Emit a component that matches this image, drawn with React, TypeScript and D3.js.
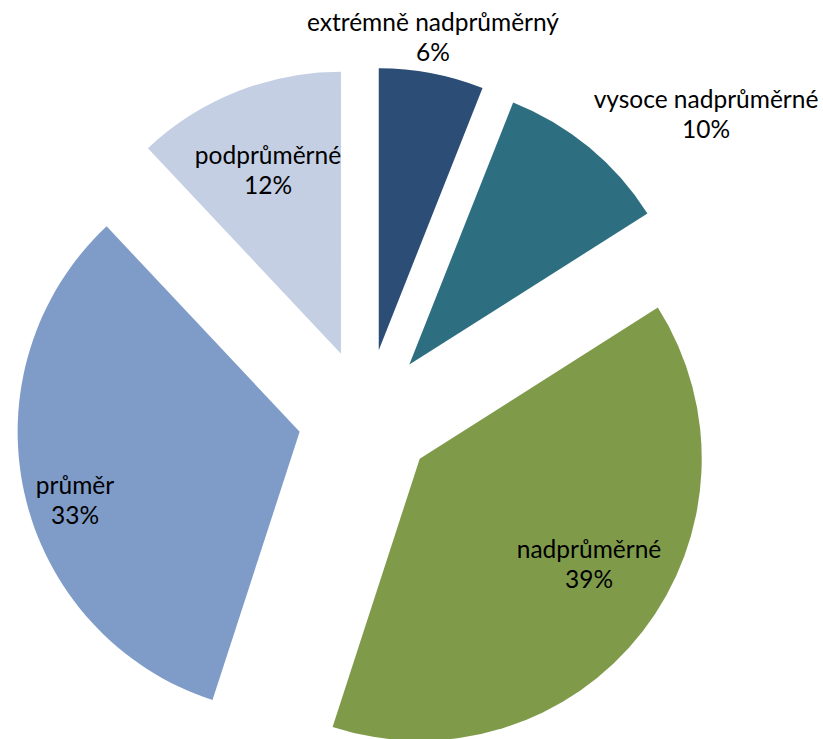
import React from "react";
import * as d3 from "d3";

const categories = ["extrémně nadprůměrný", "vysoce nadprůměrné", "nadprůměrné", "průměr", "podprůměrné"];
const values = [6, 10, 39, 33, 12];
const colors = ["#2c4d75", "#2d6f80", "#7f9b4a", "#7f9cc9", "#c4cfe3"];
// label anchor: center x, baseline of first line
const labelPos: [number, number][] = [
  [433, 31],
  [706, 108],
  [589, 558],
  [75, 494],
  [268, 164],
];

const W = 823;
const H = 739;
const cx = 366;
const cy = 417;
const R = 282;
const explode = 68;

export default function App() {
  const pie = d3.pie<number>().sort(null).value((d) => d);
  const arcs = pie(values);
  const arcGen = d3.arc<d3.PieArcDatum<number>>().innerRadius(0).outerRadius(R);
  const total = d3.sum(values);
  return (
    <svg width={W} height={H} style={{ position: "absolute", left: 0, top: 0 }}>
      <rect width={W} height={H} fill="#ffffff" />
      {arcs.map((a, i) => {
        const mid = (a.startAngle + a.endAngle) / 2;
        const dx = Math.sin(mid) * explode;
        const dy = -Math.cos(mid) * explode;
        return (
          <path
            key={i}
            d={arcGen(a) || ""}
            transform={`translate(${cx + dx},${cy + dy})`}
            fill={colors[i]}
          />
        );
      })}
      {arcs.map((a, i) => {
        const [lx, ly] = labelPos[i];
        const pct = Math.round((values[i] / total) * 100) + "%";
        return (
          <text
            key={"t" + i}
            textAnchor="middle"
            fontFamily="Lato, 'Open Sans', sans-serif"
            fontSize={24.5}
            fill="#000"
          >
            <tspan x={lx} y={ly}>{categories[i]}</tspan>
            <tspan x={lx} y={ly + 30}>{pct}</tspan>
          </text>
        );
      })}
    </svg>
  );
}
